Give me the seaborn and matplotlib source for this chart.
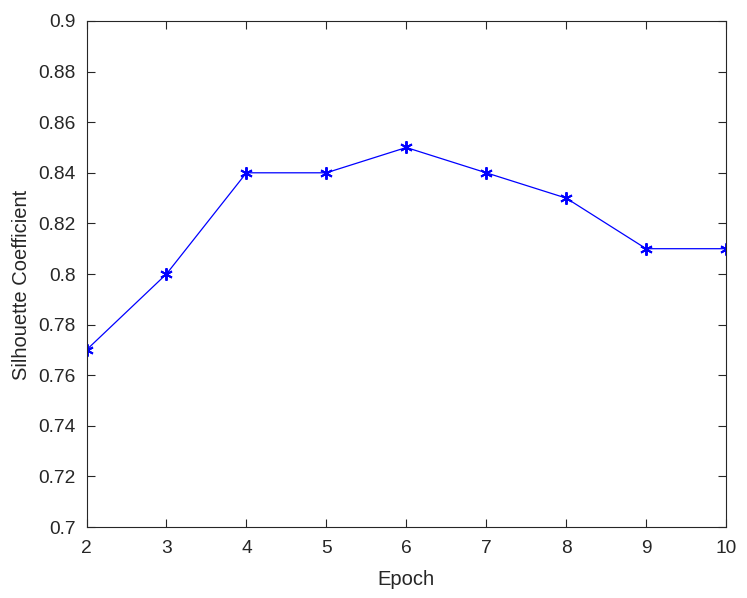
import matplotlib
matplotlib.use("Agg")
import matplotlib.pyplot as plt
import seaborn as sns
import pandas as pd

# Data
epochs = [2, 3, 4, 5, 6, 7, 8, 9, 10]
silhouette = [0.77, 0.80, 0.84, 0.84, 0.85, 0.84, 0.83, 0.81, 0.81]
y_ticks = [0.70, 0.72, 0.74, 0.76, 0.78, 0.80, 0.82, 0.84, 0.86, 0.88, 0.90]
y_labels = ["0.7", "0.72", "0.74", "0.76", "0.78", "0.8", "0.82", "0.84", "0.86", "0.88", "0.9"]

df = pd.DataFrame({"Epoch": epochs, "Silhouette": silhouette})

sns.set_style("white")
plt.rcParams["font.family"] = ["Liberation Sans", "DejaVu Sans"]

fig = plt.figure(figsize=(7.47, 5.98), dpi=100)
ax = fig.add_axes([0.1158, 0.1187, 0.972 - 0.1158, 0.9649 - 0.1187])

sns.lineplot(data=df, x="Epoch", y="Silhouette", ax=ax, color="#0000ff",
             linewidth=0.9, marker=(6, 2, 0), markersize=9,
             markeredgewidth=1.4, markeredgecolor="#0000ff")

ax.set_xlim(2, 10)
ax.set_ylim(0.7, 0.9)
ax.set_xticks(epochs)
ax.set_yticks(y_ticks)
ax.set_yticklabels(y_labels)

ax.set_xlabel("Epoch", fontsize=14.5, color="#262626", labelpad=10)
ax.set_ylabel("Silhouette Coefficient", fontsize=14.5, color="#262626")
ax.yaxis.set_label_coords(-0.087, 0.478)

ax.tick_params(direction="in", length=6, width=0.8, colors="#262626",
               labelsize=13.8, bottom=True, left=True, top=True, right=True,
               labeltop=False, labelright=False)
ax.tick_params(axis="x", pad=9)
ax.tick_params(axis="y", pad=8)
for side in ["top", "right", "bottom", "left"]:
    ax.spines[side].set_visible(True)
    ax.spines[side].set_color("#262626")
    ax.spines[side].set_linewidth(0.8)

fig.savefig("out.png", dpi=100)
